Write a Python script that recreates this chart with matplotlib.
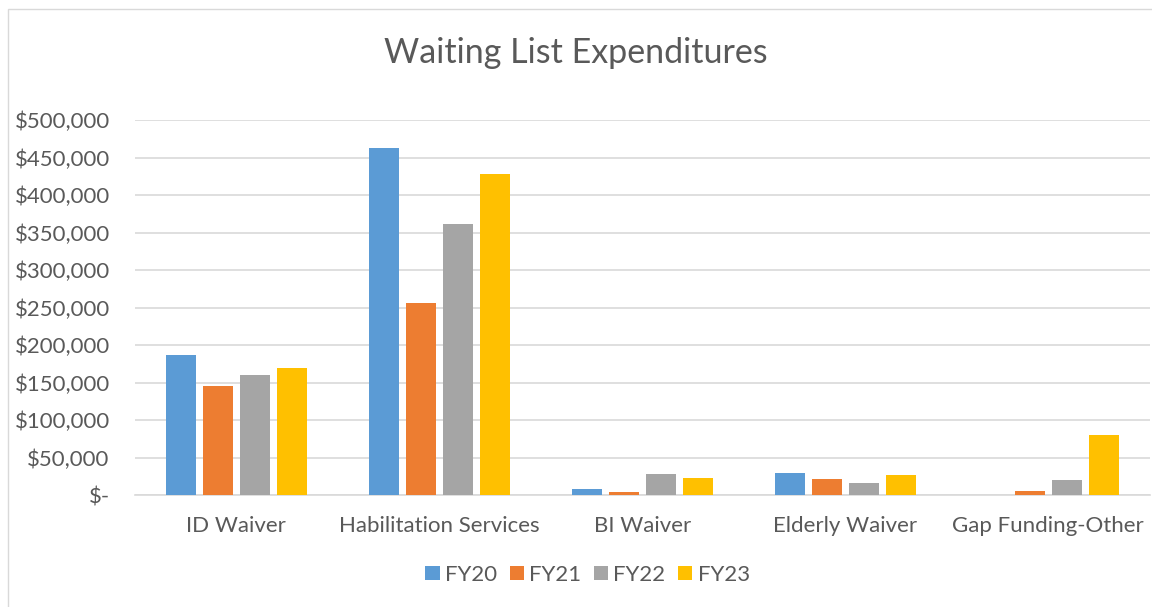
import numpy as np
import matplotlib.pyplot as plt
from matplotlib.patches import Rectangle

categories = ["ID Waiver", "Habilitation Services", "BI Waiver", "Elderly Waiver", "Gap Funding-Other"]
series = ["FY20", "FY21", "FY22", "FY23"]
fy20 = [187000, 463000, 8000, 30000, 0]
fy21 = [145000, 256000, 4000, 22000, 6000]
fy22 = [160000, 361000, 28000, 16000, 20000]
fy23 = [169000, 428000, 23000, 27000, 80000]
colores = ["#5B9BD5", "#ED7D31", "#A5A5A5", "#FFC000"]
yticks = np.arange(0, 500001, 50000)

plt.rcParams['font.family'] = ['Lato', 'DejaVu Sans']
texto = "#595959"

fig = plt.figure(figsize=(11.52, 6.07), dpi=100)
ax = fig.add_axes([0.117, 0.1845, 0.881, 0.6178])

x = np.arange(len(categories))
paso = 0.182
ancho = 0.148
for i, (nombre, valores) in enumerate(zip(series, [fy20, fy21, fy22, fy23])):
    ax.bar(x + (i - 1.5) * paso, valores, ancho, color=colores[i], label=nombre, zorder=3)

ax.set_xlim(-0.5, 4.5)
ax.set_ylim(0, 500000)
ax.set_yticks(yticks)
ax.set_yticklabels(["$-" if v == 0 else "${:,.0f}".format(v) for v in yticks])
ax.set_xticks(x)
ax.set_xticklabels(categories)
ax.tick_params(axis='both', length=0, labelsize=16, colors=texto)
ax.tick_params(axis='x', pad=15)
ax.tick_params(axis='y', pad=18)
ax.grid(axis='y', color="#D9D9D9", linewidth=1.2, zorder=0)
for lado in ["top", "right", "left"]:
    ax.spines[lado].set_visible(False)
ax.spines["bottom"].set_color("#D9D9D9")
ax.spines["bottom"].set_linewidth(1.2)

fig.text(0.5, 0.913, "Waiting List Expenditures", ha='center', va='center', fontsize=24.5, color=texto)

fig.legend(loc='center', bbox_to_anchor=(0.51, 0.053), ncol=4, frameon=False,
           fontsize=16, labelcolor=texto, handlelength=0.64, handleheight=0.64,
           handletextpad=0.25, columnspacing=0.55)

fig.patches.append(Rectangle((0.007, -0.01), 1.0, 0.995, transform=fig.transFigure,
                             fill=False, edgecolor="#D9D9D9", linewidth=1))

fig.savefig("out.png", dpi=100)
